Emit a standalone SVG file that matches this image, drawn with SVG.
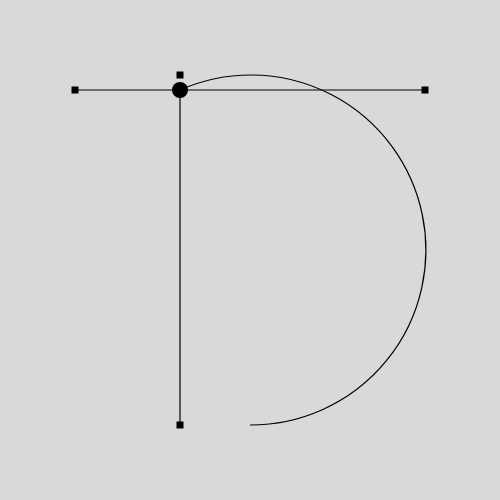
<svg xmlns="http://www.w3.org/2000/svg" width="500" height="500" viewBox="0 0 500 500">
<style>
.ln{stroke:#000;stroke-width:1.2;fill:none}
.h{fill:#000}
</style>
<rect width="500" height="500" fill="#d9d9d9"/>
<g id="connectors">
<line class="ln" x1="75" y1="90" x2="425" y2="90"/>
<line class="ln" x1="180" y1="90" x2="180" y2="425"/>
<path class="ln" d="M180,90 A175,175 0 1 1 250,425"/>
</g>
<g id="handle-left"><rect class="h" x="71.5" y="86.5" width="7" height="7"/></g>
<g id="handle-right"><rect class="h" x="421.5" y="86.5" width="7" height="7"/></g>
<g id="handle-top"><rect class="h" x="176.5" y="71.5" width="7" height="7"/></g>
<g id="handle-bottom"><rect class="h" x="176.5" y="421.5" width="7" height="7"/></g>
<g id="anchor"><circle class="h" cx="180" cy="90" r="8"/></g>
</svg>
